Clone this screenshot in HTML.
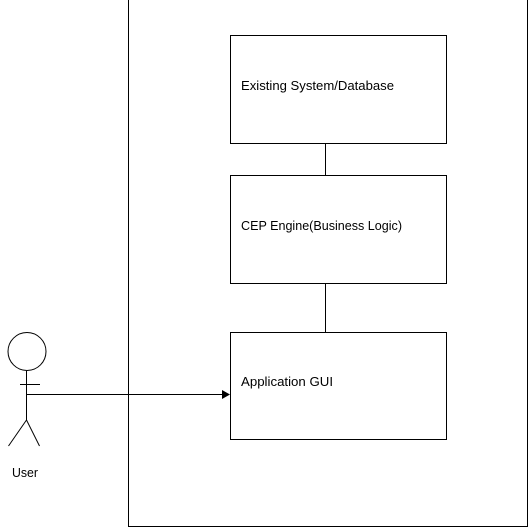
<!DOCTYPE html>
<html><head><style>html,body{margin:0;padding:0;background:#fff;}svg{display:block;}</style></head>
<body>
<svg width="529" height="529" xmlns="http://www.w3.org/2000/svg" font-family="'Liberation Sans', 'DejaVu Sans', sans-serif" font-size="13" fill="#000">
<g stroke="#000" stroke-width="1" fill="none">
<line x1="128.5" y1="0" x2="128.5" y2="527"/>
<line x1="128.5" y1="526.5" x2="527.5" y2="526.5"/>
<line x1="527.5" y1="0" x2="527.5" y2="527"/>
<rect x="230.5" y="35.5" width="216" height="108"/>
<rect x="230.5" y="175.5" width="216" height="108"/>
<rect x="230.5" y="332.5" width="216" height="107"/>
<line x1="325.5" y1="143.5" x2="325.5" y2="175.5"/>
<line x1="325.5" y1="283.5" x2="325.5" y2="332.5"/>
<circle cx="27" cy="351.5" r="19"/>
<line x1="26.5" y1="371" x2="26.5" y2="420"/>
<line x1="20" y1="384.5" x2="40" y2="384.5"/>
<line x1="26.5" y1="420" x2="8.5" y2="446"/>
<line x1="26.5" y1="420" x2="39.5" y2="446"/>
<line x1="26.5" y1="394.5" x2="224" y2="394.5"/>
</g>
<polygon points="222,390 230,394.5 222,399" fill="#000"/>
<text x="241" y="90" textLength="153" lengthAdjust="spacingAndGlyphs">Existing System/Database</text>
<text x="241" y="230" textLength="161" lengthAdjust="spacingAndGlyphs">CEP Engine(Business Logic)</text>
<text x="241" y="386" textLength="92" lengthAdjust="spacingAndGlyphs">Application GUI</text>
<text x="12" y="477" textLength="26" lengthAdjust="spacingAndGlyphs">User</text>
</svg>
</body></html>
